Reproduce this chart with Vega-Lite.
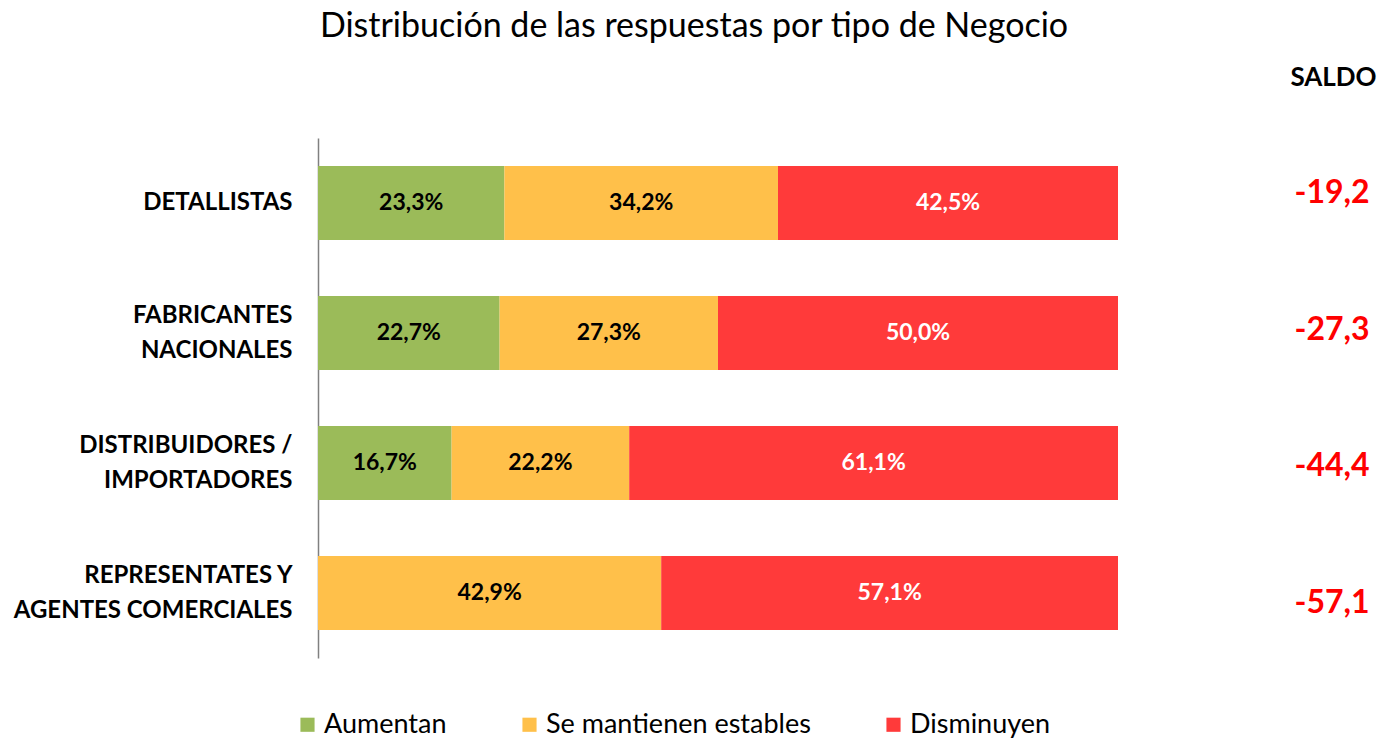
{
  "$schema": "https://vega.github.io/schema/vega-lite/v6.json",
  "autosize": "none",
  "padding": {"left": 318, "top": 138, "right": 3, "bottom": 81},
  "width": 1064,
  "height": 520,
  "background": "white",
  "config": {"view": {"stroke": null}, "font": "Lato", "text": {"font": "Lato"}},
  "datasets": {
    "resp": [
      {"tipo": "DETALLISTAS", "resp": "Aumentan", "orden": 1, "pct": 23.3},
      {"tipo": "DETALLISTAS", "resp": "Se mantienen estables", "orden": 2, "pct": 34.2},
      {"tipo": "DETALLISTAS", "resp": "Disminuyen", "orden": 3, "pct": 42.5},
      {"tipo": "FABRICANTES NACIONALES", "resp": "Aumentan", "orden": 1, "pct": 22.7},
      {"tipo": "FABRICANTES NACIONALES", "resp": "Se mantienen estables", "orden": 2, "pct": 27.3},
      {"tipo": "FABRICANTES NACIONALES", "resp": "Disminuyen", "orden": 3, "pct": 50.0},
      {"tipo": "DISTRIBUIDORES / IMPORTADORES", "resp": "Aumentan", "orden": 1, "pct": 16.7},
      {"tipo": "DISTRIBUIDORES / IMPORTADORES", "resp": "Se mantienen estables", "orden": 2, "pct": 22.2},
      {"tipo": "DISTRIBUIDORES / IMPORTADORES", "resp": "Disminuyen", "orden": 3, "pct": 61.1},
      {"tipo": "REPRESENTATES Y AGENTES COMERCIALES", "resp": "Se mantienen estables", "orden": 2, "pct": 42.9},
      {"tipo": "REPRESENTATES Y AGENTES COMERCIALES", "resp": "Disminuyen", "orden": 3, "pct": 57.1}
    ],
    "saldo": [
      {"tipo": "DETALLISTAS", "saldo": -19.2},
      {"tipo": "FABRICANTES NACIONALES", "saldo": -27.3},
      {"tipo": "DISTRIBUIDORES / IMPORTADORES", "saldo": -44.4},
      {"tipo": "REPRESENTATES Y AGENTES COMERCIALES", "saldo": -57.1}
    ]
  },
  "title": {"text": "Distribución de las respuestas por tipo de Negocio", "fontSize": 34, "fontWeight": "normal", "color": "#000000", "anchor": "middle", "frame": "group", "dx": -156, "offset": 20},
  "layer": [
    {
      "data": {"name": "resp"},
      "transform": [
        {"stack": "pct", "groupby": ["tipo"], "sort": [{"field": "orden"}], "as": ["x0", "x1"]},
        {"calculate": "(datum.x0 + datum.x1) / 2", "as": "xm"},
        {"calculate": "replace(format(datum.pct, '.1f'), '.', ',') + '%'", "as": "lbl"}
      ],
      "encoding": {
        "y": {
          "field": "tipo", "type": "nominal",
          "sort": ["DETALLISTAS", "FABRICANTES NACIONALES", "DISTRIBUIDORES / IMPORTADORES", "REPRESENTATES Y AGENTES COMERCIALES"],
          "scale": {"paddingInner": 0.43, "paddingOuter": 0.215},
          "axis": {
            "title": null, "ticks": false, "domainColor": "#808080", "domainWidth": 1.5,
            "labelFontSize": 24, "labelFontWeight": "bold", "labelColor": "#000000",
            "labelPadding": 26, "labelLineHeight": 35, "labelLimit": 400,
            "labelOffset": {"condition": {"test": "datum.value == 'DETALLISTAS'", "value": 0}, "value": -17},
            "labelExpr": "datum.label == 'FABRICANTES NACIONALES' ? ['FABRICANTES', 'NACIONALES'] : datum.label == 'DISTRIBUIDORES / IMPORTADORES' ? ['DISTRIBUIDORES /', 'IMPORTADORES'] : datum.label == 'REPRESENTATES Y AGENTES COMERCIALES' ? ['REPRESENTATES Y', 'AGENTES COMERCIALES'] : datum.label"
          }
        }
      },
      "layer": [
        {
          "mark": {"type": "bar"},
          "encoding": {
            "x": {
              "field": "x0", "type": "quantitative", "scale": {"domain": [0, 133], "nice": false, "zero": false},
              "axis": {"orient": "top", "labels": false, "ticks": false, "domain": false, "grid": false,
                "title": "SALDO", "titleFontSize": 26, "titleFontWeight": "bold", "titleColor": "#000000",
                "titleX": 1015, "titleY": -61, "titleAlign": "center", "titleBaseline": "middle", "titleAngle": 0}
            },
            "x2": {"field": "x1"},
            "color": {
              "field": "resp", "type": "nominal",
              "scale": {"domain": ["Aumentan", "Se mantienen estables", "Disminuyen"], "range": ["#9BBB59", "#FFC04A", "#FF3A3A"]},
              "legend": {
                "orient": "none", "legendX": -24, "legendY": 573, "direction": "horizontal",
                "title": null, "symbolType": "square", "symbolSize": 200, "symbolStrokeWidth": 0,
                "labelFontSize": 27, "labelColor": "#000000", "labelOffset": 3, "columnPadding": 69, "labelLimit": 400
              }
            }
          }
        },
        {
          "mark": {"type": "text", "fontSize": 23, "fontWeight": "bold"},
          "encoding": {
            "x": {"field": "xm", "type": "quantitative"},
            "text": {"field": "lbl"},
            "color": {"condition": {"test": "datum.resp == 'Disminuyen'", "value": "#FFFFFF"}, "value": "#000000"}
          }
        }
      ]
    },
    {
      "data": {"name": "saldo"},
      "transform": [
        {"calculate": "(datum.saldo < 0 ? '-' : '') + replace(format(abs(datum.saldo), '.1f'), '.', ',')", "as": "lbl"}
      ],
      "mark": {"type": "text", "fontSize": 32, "fontWeight": "bold", "color": "#FF0000"},
      "encoding": {
        "x": {"datum": 126.75, "type": "quantitative"},
        "y": {
          "field": "tipo", "type": "nominal",
          "sort": ["DETALLISTAS", "FABRICANTES NACIONALES", "DISTRIBUIDORES / IMPORTADORES", "REPRESENTATES Y AGENTES COMERCIALES"],
          "scale": {"type": "point", "padding": 0.4},
          "axis": null
        },
        "text": {"field": "lbl"}
      }
    }
  ],
  "resolve": {"scale": {"y": "independent"}, "axis": {"y": "independent"}}
}
